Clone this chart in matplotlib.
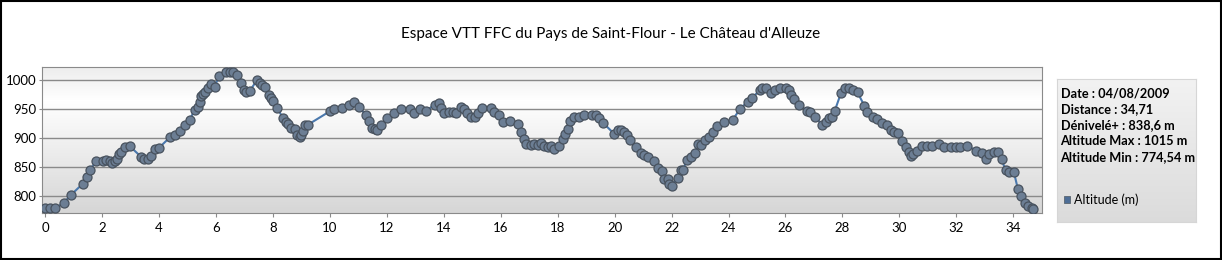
import numpy as np
import matplotlib.pyplot as plt
from matplotlib.patches import Rectangle

# Données du profil (distance en km, altitude en m)
distance = [0.0, 0.16, 0.36, 0.66, 0.90, 1.33, 1.46, 1.57, 1.80, 2.04, 2.13, 2.27, 2.36, 2.45,
            2.53, 2.60, 2.68, 2.81, 2.97, 3.38, 3.46, 3.62, 3.71, 3.85, 4.00, 4.38, 4.55, 4.73,
            4.93, 5.08, 5.25, 5.37, 5.43, 5.49, 5.55, 5.60, 5.72, 5.84, 5.95, 6.11, 6.36, 6.48,
            6.60, 6.74, 6.89, 6.97, 7.07, 7.18, 7.45, 7.53, 7.63, 7.73, 7.86, 7.94, 8.00, 8.15,
            8.35, 8.45, 8.53, 8.64, 8.76, 8.85, 8.94, 9.00, 9.06, 9.11, 9.23, 9.99, 10.13, 10.43,
            10.69, 10.86, 11.04, 11.28, 11.39, 11.47, 11.57, 11.66, 11.80, 12.01, 12.27, 12.50,
            12.82, 12.97, 13.17, 13.36, 13.68, 13.82, 13.91, 14.02, 14.20, 14.32, 14.44, 14.61,
            14.70, 14.81, 14.96, 15.08, 15.19, 15.35, 15.66, 15.78, 15.93, 16.07, 16.34, 16.60,
            16.72, 16.83, 16.89, 17.07, 17.18, 17.30, 17.42, 17.53, 17.65, 17.77, 17.88, 18.06,
            18.18, 18.27, 18.35, 18.45, 18.59, 18.76, 18.94, 19.20, 19.35, 19.46, 19.60, 19.99,
            20.11, 20.22, 20.34, 20.42, 20.55, 20.75, 20.92, 21.04, 21.19, 21.39, 21.54, 21.68,
            21.74, 21.86, 21.90, 22.01, 22.21, 22.33, 22.41, 22.53, 22.68, 22.83, 22.92, 23.03,
            23.18, 23.30, 23.44, 23.61, 23.85, 24.14, 24.40, 24.67, 24.84, 25.10, 25.19, 25.33,
            25.48, 25.64, 25.80, 26.01, 26.13, 26.21, 26.31, 26.46, 26.77, 26.85, 27.04, 27.30,
            27.44, 27.53, 27.63, 27.73, 27.95, 28.10, 28.24, 28.38, 28.53, 28.77, 28.88, 29.06,
            29.20, 29.40, 29.55, 29.70, 29.81, 29.95, 30.08, 30.22, 30.34, 30.42, 30.49, 30.63,
            30.81, 30.98, 31.16, 31.39, 31.57, 31.80, 31.98, 32.13, 32.39, 32.68, 32.89, 33.03,
            33.15, 33.32, 33.46, 33.59, 33.73, 33.85, 34.02, 34.16, 34.28, 34.40, 34.52, 34.65,
            34.71]
altitude = [778, 778, 778, 788, 801, 821, 833, 844, 860, 860, 862, 860, 856, 860,
            863, 873, 876, 884, 886, 867, 863, 863, 868, 881, 883, 901, 906, 912,
            922, 932, 948, 953, 963, 972, 977, 980, 987, 993, 989, 1007, 1015, 1015,
            1014, 1010, 995, 984, 979, 981, 1001, 996, 992, 988, 974, 969, 964, 952,
            935, 927, 924, 918, 915, 906, 902, 906, 912, 922, 923, 946, 950, 952,
            958, 962, 953, 939, 930, 918, 915, 913, 923, 934, 944, 950,
            951, 944, 951, 946, 958, 960, 952, 944, 945, 945, 943, 954,
            950, 944, 936, 937, 944, 952, 952, 945, 939, 928, 930, 925,
            910, 898, 890, 888, 890, 888, 891, 887, 884, 887, 881, 887,
            898, 907, 916, 929, 937, 937, 940, 940, 939, 934, 926, 907,
            913, 914, 910, 905, 897, 884, 874, 870, 867, 861, 848, 842,
            829, 829, 821, 817, 831, 844, 845, 862, 867, 874, 890, 888,
            897, 901, 910, 921, 927, 931, 950, 963, 970, 983, 987, 986,
            978, 983, 987, 987, 983, 974, 967, 957, 947, 945, 937, 922,
            928, 934, 937, 947, 978, 987, 986, 983, 979, 956, 945, 936,
            933, 926, 922, 913, 910, 908, 895, 884, 876, 868, 872, 878,
            887, 887, 887, 890, 884, 884, 884, 884, 887, 878, 874, 864,
            873, 876, 875, 863, 844, 841, 841, 812, 799, 788, 783, 779,
            777]

titre = "Espace VTT FFC du Pays de Saint-Flour - Le Château d'Alleuze"
infos = ["Date : 04/08/2009", "Distance : 34,71", "Dénivelé+ : 838,6 m",
         "Altitude Max : 1015 m", "Altitude Min : 774,54 m"]
serie = "Altitude (m)"

plt.rcParams['font.family'] = ['Lato', 'DejaVu Sans']

fig = plt.figure(figsize=(12.22, 2.6), dpi=100)
fig.patch.set_facecolor('white')

ax = fig.add_axes([0.0341, 0.1796, 0.8184, 0.5615])

# fond en dégradé
grad = np.concatenate([np.linspace(0.93, 1.0, 30), np.linspace(1.0, 0.84, 100)])
img = np.dstack([grad, grad, grad])[:, None, :].reshape(-1, 1, 3)
ax.imshow(img, extent=[0, 1, 0, 1], transform=ax.transAxes, aspect='auto', zorder=0)

ax.plot(distance, altitude, color='#4a78ad', lw=1.5, zorder=3)
ax.plot(distance, altitude, 'o', ms=6.5, mfc='#6c7e94', mec='#48525e', mew=0.9, zorder=4)

ax.set_xlim(-0.12, 35)
ax.set_ylim(769.5, 1022.5)
ax.set_xticks(np.arange(0, 35, 2))
ax.set_yticks(np.arange(800, 1001, 50))
ax.yaxis.grid(True, color='#8a8a8a', lw=1.0, zorder=1)
ax.set_axisbelow(True)
for s in ax.spines.values():
    s.set_color('#8a8a8a')
ax.tick_params(axis='both', colors='#8a8a8a', labelcolor='black', labelsize=9.5, length=3)
ax.tick_params(axis='y', length=2, pad=2)

fig.text(0.5, 0.87, titre, ha='center', va='center', fontsize=11)

# encadré de légende
leg = fig.add_axes([0.865, 0.146, 0.1137, 0.55])
g2 = np.linspace(0.95, 0.86, 100)
leg.imshow(np.dstack([g2, g2, g2]).reshape(-1, 1, 3), extent=[0, 1, 0, 1],
           aspect='auto', zorder=0)
leg.set_xlim(0, 1)
leg.set_ylim(0, 1)
leg.set_xticks([])
leg.set_yticks([])
for s in leg.spines.values():
    s.set_color('#d6d6d6')
for i, t in enumerate(infos):
    leg.text(0.025, 0.9 - i * 0.112, t, fontsize=9.2, fontweight='bold', va='center', ha='left')
leg.add_patch(Rectangle((0.05, 0.135), 0.045, 0.045, facecolor='#4d6d96',
                        edgecolor='#5a6570', lw=0.6, zorder=2))
leg.text(0.12, 0.155, serie, fontsize=9, va='center', ha='left')

# cadre noir autour de la figure
fig.add_artist(Rectangle((0.001, 0.003), 0.998, 0.994, transform=fig.transFigure,
                         fill=False, edgecolor='black', lw=1.5))

fig.savefig('out.png', dpi=100)
